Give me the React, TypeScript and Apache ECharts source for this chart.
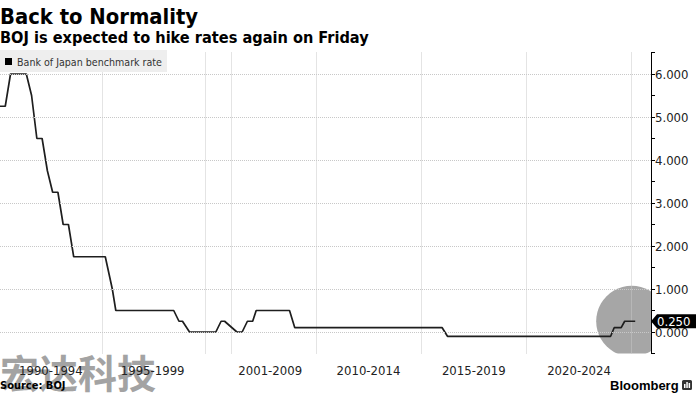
import React, { useEffect, useRef } from 'react';
import * as echarts from 'echarts';

const TITLE = 'Back to Normality';
const SUBTITLE = 'BOJ is expected to hike rates again on Friday';
const SERIES_NAME = 'Bank of Japan benchmark rate';
const SOURCE = 'Source: BOJ';
const WATERMARK = '宏达科技';
const BRAND = 'Bloomberg';

// Monthly observation categories (the chart's axis skips mid-2001 .. early-2006)
const monthSpans: [string, string][] = [
  ['1990-02', '2001-04'],
  ['2006-04', '2025-12'],
];

// Vertices of the policy-rate line (month, rate %)
const changeMonths = [
  '1990-02', '1990-05', '1990-08', '1991-05', '1991-08', '1991-11', '1992-02',
  '1992-05', '1992-08', '1992-11', '1993-02', '1993-05', '1993-08', '1995-02',
  '1995-06', '1995-08', '1998-05', '1998-08', '1998-10', '1999-02', '2000-05',
  '2000-08', '2000-10', '2006-04', '2006-07', '2006-10', '2007-01', '2007-03',
  '2008-10', '2009-01', '2016-01', '2016-04', '2024-01', '2024-03', '2024-07',
  '2024-09', '2025-03',
];
const changeRates = [
  5.25, 5.25, 6.0, 6.0, 5.5, 4.5, 4.5,
  3.75, 3.25, 3.25, 2.5, 2.5, 1.75, 1.75,
  1.0, 0.5, 0.5, 0.25, 0.25, 0.0, 0.0,
  0.25, 0.25, 0.0, 0.0, 0.25, 0.25, 0.5,
  0.5, 0.1, 0.1, -0.1, -0.1, 0.1, 0.1,
  0.25, 0.25,
];

// Vertical grid lines and period labels on the x axis
const gridMonths = ['1994-12', '1999-11', '2001-02', '2010-01', '2015-01', '2020-01', '2025-01'];
const labelMonths = ['1992-07', '1997-05', '2007-11', '2012-07', '2017-07', '2022-07'];
const periodLabels = ['1990-1994', '1995-1999', '2001-2009', '2010-2014', '2015-2019', '2020-2024'];

// Y axis
const yMin = -0.5;
const yMax = 6.5;
const yStep = 0.5;
const yGridValues = [0, 1, 2, 3, 4, 5, 6];

// Highlighted latest reading
const highlightMonth = '2025-01';
const highlightRate = 0.25;

const FONT = "'DejaVu Sans Condensed', 'Liberation Sans', sans-serif";

function expandMonths(spans: [string, string][]): string[] {
  const out: string[] = [];
  for (const [a, b] of spans) {
    let [y, m] = a.split('-').map(Number);
    const [ye, me] = b.split('-').map(Number);
    while (y < ye || (y === ye && m <= me)) {
      out.push(`${y}-${String(m).padStart(2, '0')}`);
      m += 1;
      if (m > 12) {
        m = 1;
        y += 1;
      }
    }
  }
  return out;
}

export default function App() {
  const ref = useRef<HTMLDivElement>(null);

  useEffect(() => {
    if (!ref.current) return;
    const chart = echarts.init(ref.current, undefined, { renderer: 'svg' });
    const months = expandMonths(monthSpans);
    const rateData = months.map((m) => {
      const i = changeMonths.indexOf(m);
      return i >= 0 ? changeRates[i] : null;
    });
    const gridIdx = new Set(gridMonths.map((m) => months.indexOf(m)));
    const labelIdx = new Map(labelMonths.map((m, i) => [months.indexOf(m), periodLabels[i]]));

    const option: any = {
      animation: false,
      backgroundColor: '#ffffff',
      title: [
        {
          text: TITLE,
          left: 0,
          top: 5.5,
          padding: 0,
          textStyle: { fontFamily: FONT, fontWeight: 'bold', fontSize: 21.8, color: '#000' },
        },
        {
          text: SUBTITLE,
          left: 0,
          top: 29.5,
          padding: 0,
          textStyle: { fontFamily: FONT, fontWeight: 'bold', fontSize: 16.2, color: '#000' },
        },
      ],
      legend: {
        data: [SERIES_NAME],
        left: 0,
        top: 50,
        padding: [6, 5, 5, 5],
        backgroundColor: '#eeeeee',
        icon: 'rect',
        itemWidth: 7,
        itemHeight: 7,
        selectedMode: false,
        textStyle: { fontFamily: FONT, fontSize: 10.6, color: '#333' },
      },
      grid: { left: 0, right: 45, top: 52.5, bottom: 39.5, containLabel: false },
      xAxis: {
        type: 'category',
        data: months,
        boundaryGap: false,
        axisLine: { show: false },
        axisTick: { show: false },
        axisLabel: {
          interval: (index: number) => labelIdx.has(index),
          formatter: (_v: string, index: number) => labelIdx.get(index) ?? '',
          margin: 10,
          fontFamily: FONT,
          fontSize: 13,
          color: '#222',
        },
        splitLine: {
          show: true,
          interval: (index: number) => gridIdx.has(index),
          lineStyle: { type: 'dotted', color: '#c8c8c8', width: 1 },
        },
      },
      yAxis: {
        type: 'value',
        position: 'right',
        min: yMin,
        max: yMax,
        interval: yStep,
        axisLine: { show: true, lineStyle: { color: '#000', width: 1 } },
        axisTick: { show: true, length: 4, lineStyle: { color: '#000', width: 1 } },
        axisLabel: {
          margin: 4,
          fontFamily: FONT,
          fontSize: 13,
          color: '#222',
          formatter: (v: number) => (Number.isInteger(v) ? v.toFixed(3) : ''),
        },
        splitLine: { show: false },
      },
      series: [
        {
          type: 'custom',
          name: 'highlight',
          z: -1,
          clip: true,
          silent: true,
          data: [[highlightMonth, highlightRate]],
          encode: { x: 0, y: 1 },
          renderItem: (_params: any, api: any) => {
            const p = api.coord([api.value(0), api.value(1)]);
            return {
              type: 'circle',
              shape: { cx: p[0], cy: p[1], r: 35.5 },
              style: { fill: '#a6a6a6' },
            };
          },
          markLine: {
            silent: true,
            symbol: ['none', 'none'],
            label: { show: false },
            lineStyle: { type: 'dotted', color: '#c8c8c8', width: 1 },
            data: yGridValues.map((v) => ({ yAxis: v })),
          },
        },
        {
          type: 'line',
          name: SERIES_NAME,
          data: rateData,
          connectNulls: true,
          showSymbol: false,
          symbol: 'none',
          z: 3,
          itemStyle: { color: '#000' },
          lineStyle: { color: '#1e1e1e', width: 1.7 },
        },
        {
          type: 'custom',
          name: 'lastTag',
          z: 10,
          clip: false,
          silent: true,
          data: [[highlightMonth, highlightRate]],
          encode: { x: 0, y: 1 },
          renderItem: (params: any, api: any) => {
            const p = api.coord([api.value(0), api.value(1)]);
            const xr = params.coordSys.x + params.coordSys.width;
            const y = p[1];
            const w = api.getWidth();
            return {
              type: 'group',
              children: [
                {
                  type: 'polygon',
                  shape: {
                    points: [
                      [xr, y],
                      [xr + 6, y - 7],
                      [w, y - 7],
                      [w, y + 7],
                      [xr + 6, y + 7],
                    ],
                  },
                  style: { fill: '#000' },
                },
                {
                  type: 'text',
                  style: {
                    text: highlightRate.toFixed(3),
                    x: xr + 6,
                    y: y,
                    verticalAlign: 'middle',
                    align: 'left',
                    fill: '#fff',
                    fontFamily: FONT,
                    fontSize: 13,
                  },
                },
              ],
            };
          },
        },
      ],
      graphic: [
        {
          type: 'text',
          z: -5,
          silent: true,
          style: {
            text: WATERMARK,
            x: 0,
            y: 371,
            verticalAlign: 'middle',
            fill: '#a3a3a3',
            fontFamily: "'Noto Sans CJK SC', sans-serif",
            fontWeight: 'bold',
            fontSize: 39,
          },
        },
        {
          type: 'text',
          silent: true,
          style: {
            text: SOURCE,
            x: 0,
            y: 385.5,
            verticalAlign: 'middle',
            fill: '#000',
            fontFamily: FONT,
            fontWeight: 'bold',
            fontSize: 11,
          },
        },
        {
          type: 'text',
          silent: true,
          style: {
            text: BRAND,
            x: 610,
            y: 385,
            verticalAlign: 'middle',
            fill: '#000',
            fontFamily: "'Liberation Sans', sans-serif",
            fontWeight: 'bold',
            fontSize: 13,
          },
        },
        {
          type: 'group',
          x: 682,
          y: 380,
          silent: true,
          children: [
            { type: 'rect', shape: { x: 0, y: 0, width: 10, height: 10, r: 1.5 }, style: { fill: '#333' } },
            { type: 'rect', shape: { x: 2, y: 4, width: 1.5, height: 4 }, style: { fill: '#fff' } },
            { type: 'rect', shape: { x: 4.3, y: 2, width: 1.5, height: 6 }, style: { fill: '#fff' } },
            { type: 'rect', shape: { x: 6.6, y: 3, width: 1.5, height: 5 }, style: { fill: '#fff' } },
          ],
        },
      ],
    };

    chart.setOption(option);
    return () => {
      chart.dispose();
    };
  }, []);

  return (
    <div
      ref={ref}
      style={{ position: 'absolute', left: 0, top: 0, width: 696, height: 393, background: '#fff' }}
    />
  );
}
